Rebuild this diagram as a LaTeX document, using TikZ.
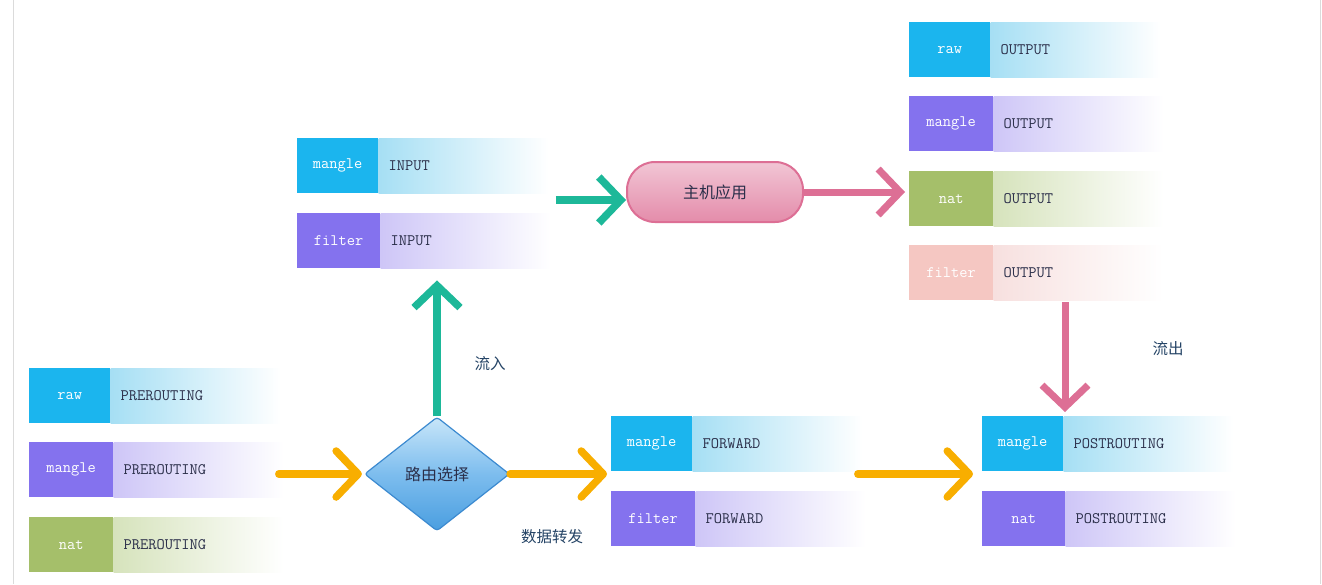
\documentclass[tikz,border=0pt]{standalone}
\usepackage{fontspec}
\newfontfamily\cjk{Noto Sans CJK SC}
\usetikzlibrary{shapes.geometric,arrows.meta,calc}
\definecolor{cblue}{HTML}{1BB5EE}
\definecolor{lblue}{HTML}{A6DFF4}
\definecolor{cpurp}{HTML}{8472EE}
\definecolor{lpurp}{HTML}{CEC6F7}
\definecolor{cgreen}{HTML}{A5BF6A}
\definecolor{lgreen}{HTML}{D6E3BC}
\definecolor{cpink}{HTML}{F5C7C2}
\definecolor{lpink}{HTML}{F7E0DF}
\definecolor{txt}{HTML}{2B2F4A}
\definecolor{lab}{HTML}{254466}
\definecolor{corange}{HTML}{F8AE00}
\definecolor{cteal}{HTML}{1DB899}
\definecolor{cpinkar}{HTML}{DD6F95}
\definecolor{dtop}{HTML}{C8E6F9}
\definecolor{dmid}{HTML}{7DBDEE}
\definecolor{dbot}{HTML}{4A9EE0}
\definecolor{dedge}{HTML}{3C8AD0}
\tikzset{
  darkbox/.style={inner sep=0pt, minimum height=55pt, text=white, font=\ttfamily\fontsize{16}{18}\selectfont, anchor=north west},
  lightbox/.style={inner ysep=0pt, inner xsep=10pt, minimum height=55pt, text width=150pt, align=left, right color=white, text=txt, font=\ttfamily\fontsize{16}{18}\selectfont, anchor=west},
  orangearrow/.style={draw=corange, line width=7.5pt, line cap=round, -{Straight Barb[round, length=22pt, width=46pt]}},
  tealarrow/.style={draw=cteal, line width=7.5pt, -{Straight Barb[length=22pt, width=46pt]}},
  pinkarrow/.style={draw=cpinkar, line width=7pt, -{Straight Barb[length=22pt, width=46pt]}},
  flowlabel/.style={text=lab, font=\cjk\fontsize{15.5}{17}\selectfont},
}
\newcommand\tabrow[8]{%
  \node[darkbox, fill=c#6, minimum width=#4pt] (#1a) at (#2,#3) {#7};
  \node[lightbox, left color=l#6, minimum width=#5pt] (#1b) at (#1a.east) {#8};
}
\begin{document}
\begin{tikzpicture}[x=1pt,y=-1pt]
\useasboundingbox (0,0) rectangle (1322,584);
\fill[white] (0,0) rectangle (1322,584);
\draw[draw=black!14, line width=1pt] (13,0) -- (13,584);
\draw[draw=black!14, line width=1pt] (1320,0) -- (1320,584);
% INPUT
\tabrow{mi}{297}{138}{81}{170}{blue}{mangle}{INPUT}
\tabrow{fi}{297}{213}{83}{170}{purp}{filter}{INPUT}
% OUTPUT
\tabrow{ro}{909}{22}{81}{170}{blue}{raw}{OUTPUT}
\tabrow{mo}{909}{96}{84}{170}{purp}{mangle}{OUTPUT}
\tabrow{no}{909}{171}{84}{170}{green}{nat}{OUTPUT}
\tabrow{fo}{909}{245}{84}{170}{pink}{filter}{OUTPUT}
% PREROUTING
\tabrow{rp}{29}{368}{81}{165}{blue}{raw}{PREROUTING}
\tabrow{mp}{29}{442}{84}{165}{purp}{mangle}{PREROUTING}
\tabrow{np}{29}{517}{84}{165}{green}{nat}{PREROUTING}
% FORWARD
\tabrow{mf}{611}{416}{81}{170}{blue}{mangle}{FORWARD}
\tabrow{ff}{611}{491}{84}{170}{purp}{filter}{FORWARD}
% POSTROUTING
\tabrow{ms}{982}{416}{81}{170}{blue}{mangle}{POSTROUTING}
\tabrow{ns}{982}{491}{83}{170}{purp}{nat}{POSTROUTING}
% diamond
\node[diamond, minimum width=145pt, minimum height=114pt, inner sep=0pt,
      top color=dtop, bottom color=dbot, middle color=dmid,
      draw=dedge, line width=1.2pt, rounded corners=3pt,
      text=txt, font=\cjk\fontsize{16}{18}\selectfont] (dia) at (437,474) {路由选择};
% host application
\node[rectangle, rounded corners=28pt, minimum width=176pt, minimum height=60pt,
      top color=cpinkar!40!white, bottom color=cpinkar!80!white,
      draw=cpinkar, line width=2pt, text=txt, font=\cjk\fontsize{16}{18}\selectfont] (app) at (715,192) {主机应用};
% arrows
\draw[orangearrow] ([xshift=-5pt]mpb.east |- dia.west) -- ([xshift=-2pt]dia.west);
\draw[orangearrow] (dia.east) -- ([xshift=-4pt]mfa.west |- dia.east);
\draw[orangearrow] ([xshift=-5pt]mfb.east |- dia.east) -- ([xshift=-9pt]msa.west |- dia.east);
\draw[tealarrow] (dia.north) -- ([yshift=-12pt]dia.north |- fib.south);
\draw[tealarrow] ([xshift=7pt,yshift=-8pt]mib.east |- app.west) -- ([yshift=-8pt]app.west);
\draw[pinkarrow] (app.east) -- ([xshift=-4pt]noa.west |- app.east);
\coordinate (pd) at (1065,302);
\draw[pinkarrow] (pd) -- ([yshift=4pt]pd |- msa.north);
% labels
\node[flowlabel] (lin) at (490,364) {流入};
\node[flowlabel] (lfw) at (552,537) {数据转发};
\node[flowlabel] (lout) at (1168,349) {流出};
\end{tikzpicture}
\end{document}
